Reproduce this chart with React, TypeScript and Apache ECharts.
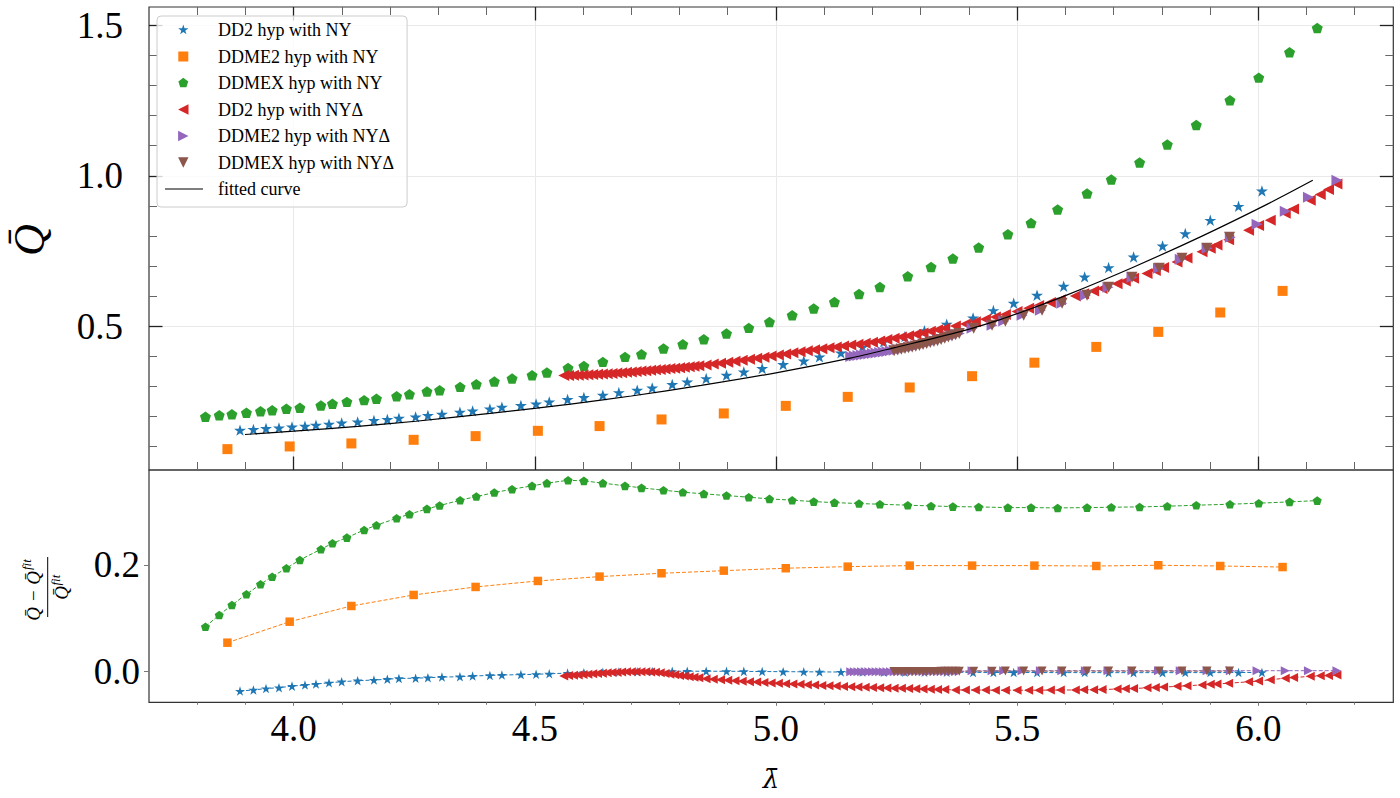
import React, { useEffect, useRef } from "react";
import * as echarts from "echarts";

const FONT = '"Liberation Serif", "Times New Roman", serif';
const MATH_FONT = '"DejaVu Serif", "Liberation Serif", serif';

// ---------- axis ranges & ticks ----------
const X_MIN = 3.7;
const X_MAX = 6.28;
const YT_MIN = 0.022;
const YT_MAX = 1.561;
const YB_MIN = -0.059;
const YB_MAX = 0.379;
const xMajorTicks = [4.0, 4.5, 5.0, 5.5, 6.0];
const xMinorTicks = [3.8, 3.9, 4.1, 4.2, 4.3, 4.4, 4.6, 4.7, 4.8, 4.9, 5.1, 5.2, 5.3, 5.4, 5.6, 5.7, 5.8, 5.9, 6.1, 6.2];
const yTopMajorTicks = [0.5, 1.0, 1.5];
const yTopMinorTicks = [0.1, 0.2, 0.3, 0.4, 0.6, 0.7, 0.8, 0.9, 1.1, 1.2, 1.3, 1.4];
const yBotTicks = [0.0, 0.2];

// ---------- DD2 hyp with NY ----------
const lamDD2NY = [3.8887, 3.9165, 3.9426, 3.9695, 3.9965, 4.0234, 4.0462, 4.0732, 4.0995, 4.1326, 4.1664, 4.1942, 4.2182, 4.2528, 4.2783, 4.3074, 4.3447, 4.3710, 4.4068, 4.4317, 4.4711, 4.5026, 4.5299, 4.5679, 4.6017, 4.6410, 4.6742, 4.7123, 4.7434, 4.7849, 4.8160, 4.8553, 4.8974, 4.9333, 4.9714, 5.0149, 5.0576, 5.0902, 5.1347, 5.1793, 5.2234, 5.2674, 5.3078, 5.3540, 5.4087, 5.4508, 5.4929, 5.5413, 5.5965, 5.6400, 5.6897, 5.7415, 5.8016, 5.8487, 5.9005, 5.9591, 6.0076];
const qDD2NY = [0.1545, 0.1568, 0.1601, 0.1621, 0.1654, 0.1678, 0.1711, 0.1744, 0.1787, 0.1821, 0.1867, 0.1900, 0.1944, 0.1987, 0.2033, 0.2076, 0.2143, 0.2186, 0.2253, 0.2309, 0.2365, 0.2419, 0.2485, 0.2565, 0.2631, 0.2708, 0.2797, 0.2874, 0.2950, 0.3063, 0.3150, 0.3262, 0.3372, 0.3482, 0.3595, 0.3728, 0.3847, 0.3980, 0.4113, 0.4302, 0.4485, 0.4658, 0.4850, 0.5066, 0.5276, 0.5522, 0.5764, 0.6030, 0.6329, 0.6638, 0.6950, 0.7302, 0.7668, 0.8080, 0.8522, 0.8987, 0.9495];
const rDD2NY = [-0.0377, -0.0358, -0.0330, -0.0315, -0.0285, -0.0264, -0.0245, -0.0222, -0.0202, -0.0183, -0.0170, -0.0155, -0.0140, -0.0136, -0.0126, -0.0115, -0.0107, -0.0095, -0.0083, -0.0076, -0.0068, -0.0062, -0.0052, -0.0040, -0.0032, -0.0025, -0.0018, -0.0012, -0.0008, -0.0005, -0.0004, -0.0004, -0.0005, -0.0007, -0.0010, -0.0012, -0.0015, -0.0017, -0.0019, -0.0020, -0.0022, -0.0023, -0.0024, -0.0025, -0.0026, -0.0027, -0.0028, -0.0029, -0.0030, -0.0030, -0.0031, -0.0031, -0.0031, -0.0030, -0.0030, -0.0029, -0.0028];

// ---------- DDME2 hyp with NY ----------
const lamDDME2NY = [3.8626, 3.9917, 4.1196, 4.2487, 4.3772, 4.5063, 4.6342, 4.7627, 4.8918, 5.0203, 5.1488, 5.2773, 5.4066, 5.5358, 5.6642, 5.7927, 5.9212, 6.0504];
const qDDME2NY = [0.0914, 0.1003, 0.1103, 0.1223, 0.1346, 0.1522, 0.1680, 0.1900, 0.2100, 0.2352, 0.2651, 0.2963, 0.3339, 0.3787, 0.4312, 0.4811, 0.5455, 0.6173];
const rDDME2NY = [0.0534, 0.0930, 0.1226, 0.1434, 0.1585, 0.1698, 0.1780, 0.1843, 0.1892, 0.1938, 0.1968, 0.1987, 0.1987, 0.1987, 0.1980, 0.1994, 0.1980, 0.1960];

// ---------- DDMEX hyp with NY ----------
const lamDDMEXNY = [3.8170, 3.8456, 3.8719, 3.9020, 3.9312, 3.9554, 3.9849, 4.0128, 4.0564, 4.0804, 4.1103, 4.1461, 4.1716, 4.2135, 4.2400, 4.2763, 4.3026, 4.3451, 4.3787, 4.4160, 4.4528, 4.4943, 4.5250, 4.5689, 4.6017, 4.6410, 4.6870, 4.7212, 4.7668, 4.8068, 4.8504, 4.8974, 4.9436, 4.9865, 5.0336, 5.0783, 5.1212, 5.1722, 5.2155, 5.2732, 5.3216, 5.3668, 5.4203, 5.4808, 5.5289, 5.5840, 5.6450, 5.6953, 5.7540, 5.8114, 5.8715, 5.9413, 6.0010, 6.0649, 6.1223];
const qDDMEXNY = [0.1987, 0.2043, 0.2076, 0.2120, 0.2176, 0.2209, 0.2253, 0.2286, 0.2365, 0.2419, 0.2485, 0.2542, 0.2585, 0.2674, 0.2741, 0.2831, 0.2874, 0.2983, 0.3073, 0.3163, 0.3262, 0.3372, 0.3462, 0.3615, 0.3681, 0.3814, 0.3980, 0.4070, 0.4259, 0.4402, 0.4568, 0.4757, 0.4944, 0.5143, 0.5365, 0.5588, 0.5807, 0.6073, 0.6306, 0.6661, 0.6970, 0.7249, 0.7615, 0.8056, 0.8432, 0.8877, 0.9409, 0.9874, 1.0439, 1.1037, 1.1688, 1.2508, 1.3262, 1.4103, 1.4910];
const rDDMEXNY = [0.0836, 0.1057, 0.1245, 0.1447, 0.1636, 0.1779, 0.1938, 0.2094, 0.2296, 0.2409, 0.2515, 0.2660, 0.2749, 0.2881, 0.2957, 0.3057, 0.3119, 0.3221, 0.3289, 0.3364, 0.3428, 0.3491, 0.3542, 0.3596, 0.3585, 0.3542, 0.3491, 0.3453, 0.3409, 0.3372, 0.3340, 0.3308, 0.3277, 0.3245, 0.3221, 0.3194, 0.3175, 0.3157, 0.3145, 0.3126, 0.3113, 0.3100, 0.3094, 0.3081, 0.3081, 0.3075, 0.3081, 0.3088, 0.3094, 0.3107, 0.3126, 0.3145, 0.3164, 0.3189, 0.3213];

// ---------- DD2 hyp with NYΔ ----------
const lamDD2ND = [
  4.56, 4.57, 4.58, 4.59, 4.60, 4.61, 4.62, 4.63, 4.64, 4.65, 4.66, 4.67, 4.68, 4.69, 4.70, 4.71, 4.72, 4.73, 4.74, 4.75, 4.76, 4.77, 4.78, 4.79, 4.80, 4.81, 4.82, 4.83, 4.84,
  4.855, 4.87, 4.885, 4.9, 4.915, 4.93, 4.945, 4.96, 4.975, 4.99, 5.005, 5.02, 5.035, 5.05, 5.065, 5.08, 5.095, 5.11, 5.125, 5.14, 5.155, 5.17, 5.185, 5.2, 5.215, 5.23, 5.245, 5.26, 5.275, 5.29, 5.305, 5.32, 5.335, 5.35,
  5.3720, 5.3927, 5.4135, 5.4342, 5.4549, 5.4756, 5.4999, 5.5239, 5.5447, 5.5689, 5.5896, 5.6207, 5.6379, 5.6587, 5.6761, 5.7072, 5.7244, 5.7415, 5.7693, 5.7865, 5.8037, 5.8315, 5.8522, 5.8833, 5.9005, 5.9144, 5.9385, 5.9799, 6.0006, 6.0249, 6.0560, 6.0732, 6.1078, 6.1285, 6.1457, 6.1631,
];
const qDD2ND = [
  0.3360, 0.3364, 0.3368, 0.3373, 0.3380, 0.3387, 0.3395, 0.3403, 0.3411, 0.3420, 0.3431, 0.3442, 0.3454, 0.3467, 0.3480, 0.3493, 0.3507, 0.3521, 0.3535, 0.3550, 0.3564, 0.3578, 0.3592, 0.3606, 0.3620, 0.3636, 0.3652, 0.3668, 0.3684,
  0.371, 0.374, 0.377, 0.380, 0.3833, 0.3866, 0.3899, 0.3934, 0.397, 0.4006, 0.4042, 0.4078, 0.4114, 0.415, 0.4183, 0.4216, 0.4249, 0.428, 0.431, 0.434, 0.4371, 0.4404, 0.4437, 0.447, 0.4512, 0.4554, 0.4596, 0.464, 0.4685, 0.473, 0.4777, 0.4828, 0.4879, 0.493,
  0.5005, 0.5075, 0.5151, 0.5230, 0.5309, 0.5392, 0.5490, 0.5595, 0.5687, 0.5790, 0.5876, 0.6007, 0.6079, 0.6172, 0.6255, 0.6409, 0.6502, 0.6594, 0.6752, 0.6852, 0.6954, 0.7132, 0.7265, 0.7475, 0.7594, 0.7697, 0.7875, 0.8188, 0.8345, 0.8524, 0.8758, 0.8896, 0.9185, 0.9374, 0.9547, 0.9730,
];
const rDD2ND = [
  -0.0094, -0.0087, -0.0080, -0.0073, -0.0066, -0.0059, -0.0053, -0.0047, -0.0041, -0.0035, -0.0029, -0.0023, -0.0018, -0.0015, -0.0013, -0.0012, -0.0013, -0.0016, -0.0020, -0.0025, -0.0035, -0.0047, -0.0060, -0.0072, -0.0084, -0.0095, -0.0106, -0.0117, -0.0128,
  -0.0146, -0.0156, -0.0166, -0.0175, -0.0184, -0.0193, -0.0201, -0.0209, -0.0217, -0.0225, -0.0231, -0.0238, -0.0244, -0.0251, -0.0258, -0.0265, -0.0272, -0.0279, -0.0285, -0.0290, -0.0296, -0.0301, -0.0306, -0.0311, -0.0315, -0.0319, -0.0323, -0.0327, -0.0331, -0.0335, -0.0339, -0.0343, -0.0347, -0.0350,
  -0.0356, -0.0358, -0.0359, -0.0360, -0.0361, -0.0362, -0.0362, -0.0362, -0.0361, -0.0360, -0.0359, -0.0357, -0.0355, -0.0352, -0.0349, -0.0341, -0.0336, -0.0330, -0.0318, -0.0311, -0.0303, -0.0289, -0.0278, -0.0262, -0.0252, -0.0244, -0.0230, -0.0204, -0.0190, -0.0165, -0.0135, -0.0122, -0.0101, -0.0091, -0.0083, -0.0075,
];

// ---------- DDME2 hyp with NYΔ ----------
const lamDDME2ND = [
  5.155, 5.1625, 5.17, 5.1775, 5.185, 5.1925, 5.2, 5.2075, 5.215, 5.2225, 5.23, 5.2375, 5.245, 5.2525, 5.26, 5.2675, 5.275, 5.2825, 5.29, 5.2975, 5.305, 5.3125, 5.32, 5.3275, 5.335, 5.3425, 5.35, 5.3575, 5.365, 5.3725, 5.38,
  5.4066, 5.4481, 5.4721, 5.5103, 5.5482, 5.5927, 5.6415, 5.6885, 5.7382, 5.7932, 5.8383, 5.8939, 5.9420, 5.9975, 6.0560, 6.1040, 6.1631,
];
const qDDME2ND = [
  0.3990, 0.4007, 0.4023, 0.4040, 0.4057, 0.4073, 0.4090, 0.4108, 0.4127, 0.4145, 0.4163, 0.4182, 0.4200, 0.4225, 0.4250, 0.4275, 0.4300, 0.4325, 0.4350, 0.4382, 0.4413, 0.4445, 0.4477, 0.4508, 0.4540, 0.4577, 0.4613, 0.4650, 0.4687, 0.4723, 0.4760,
  0.4930, 0.5033, 0.5170, 0.5365, 0.5532, 0.5764, 0.6030, 0.6296, 0.6628, 0.6927, 0.7226, 0.7591, 0.7957, 0.8389, 0.8821, 0.9286, 0.9850,
];
const rDDME2ND = [
  -0.0014, -0.0014, -0.0014, -0.0013, -0.0013, -0.0013, -0.0013, -0.0013, -0.0012, -0.0012, -0.0012, -0.0012, -0.0012, -0.0012, -0.0011, -0.0011, -0.0011, -0.0011, -0.0011, -0.0011, -0.0010, -0.0010, -0.0010, -0.0010, -0.0010, -0.0009, -0.0009, -0.0009, -0.0008, -0.0008, -0.0008,
  0.0004, 0.0005, 0.0005, 0.0005, 0.0006, 0.0006, 0.0006, 0.0006, 0.0006, 0.0006, 0.0006, 0.0006, 0.0006, 0.0006, 0.0006, 0.0006, 0.0006,
];

// ---------- DDMEX hyp with NYΔ ----------
const lamDDMEXND = [
  5.245, 5.2525, 5.26, 5.2675, 5.275, 5.2825, 5.29, 5.2975, 5.305, 5.3125, 5.32, 5.3275, 5.335, 5.3425, 5.35, 5.3575, 5.365, 5.3725, 5.38,
  5.4100, 5.4481, 5.4756, 5.5136, 5.5517, 5.5932, 5.6450, 5.6897, 5.7382, 5.7948, 5.8419, 5.8937, 5.9405,
];
const qDDMEXND = [
  0.4180, 0.4205, 0.4230, 0.4255, 0.4280, 0.4305, 0.4330, 0.4362, 0.4393, 0.4425, 0.4457, 0.4488, 0.4520, 0.4560, 0.4599, 0.4639, 0.4678, 0.4718, 0.4757,
  0.4934, 0.5033, 0.5166, 0.5365, 0.5532, 0.5764, 0.6030, 0.6296, 0.6628, 0.6927, 0.7259, 0.7591, 0.7957,
];
const rDDMEXND = [
  -0.0009, -0.0009, -0.0009, -0.0008, -0.0008, -0.0008, -0.0008, -0.0008, -0.0008, -0.0007, -0.0007, -0.0007, -0.0007, -0.0006, -0.0006, -0.0006, -0.0005, -0.0005, -0.0005,
  -0.0003, -0.0003, -0.0002, -0.0002, -0.0002, -0.0002, -0.0002, -0.0002, -0.0002, -0.0002, -0.0002, -0.0002, -0.0002,
];

// ---------- fitted curve ----------
const lamFit = [3.899, 4.0, 4.133, 4.253, 4.407, 4.574, 4.70, 4.845, 5.0, 5.154, 5.244, 5.382, 5.465, 5.527, 5.604, 5.742, 5.88, 6.018, 6.113];
const qFit = [0.140, 0.151, 0.167, 0.184, 0.210, 0.241, 0.268, 0.303, 0.345, 0.394, 0.428, 0.482, 0.522, 0.557, 0.604, 0.697, 0.797, 0.905, 0.985];

// ---------- names & colours ----------
const NAMES = [
  "DD2 hyp with NY",
  "DDME2 hyp with NY",
  "DDMEX hyp with NY",
  "DD2 hyp with NYΔ",
  "DDME2 hyp with NYΔ",
  "DDMEX hyp with NYΔ",
];
const FIT_NAME = "fitted curve";
const COLORS = ["#1f77b4", "#ff7f0e", "#2ca02c", "#d62728", "#9467bd", "#8c564b"];

// ---------- marker shapes (unit polygons) ----------
const STAR_PTS = [[0, -1], [0.2245, -0.309], [0.9511, -0.309], [0.3633, 0.118], [0.5878, 0.809], [0, 0.382], [-0.5878, 0.809], [-0.3633, 0.118], [-0.9511, -0.309], [-0.2245, -0.309]];
const PENT_PTS = [[0, -1], [0.9511, -0.309], [0.5878, 0.809], [-0.5878, 0.809], [-0.9511, -0.309]];
const SQ_PTS = [[-1, -1], [1, -1], [1, 1], [-1, 1]];
const TL_PTS = [[-1, 0], [1, -1], [1, 1]];
const TR_PTS = [[1, 0], [-1, -1], [-1, 1]];
const TD_PTS = [[0, 1], [-1, -1], [1, -1]];

function polyStr(pts: number[][], s = 1, cx = 0, cy = 0) {
  return pts.map((p, i) => (i ? "L" : "M") + (cx + p[0] * s).toFixed(3) + "," + (cy + p[1] * s).toFixed(3)).join("") + "Z";
}
const sym = (pts: number[][]) => "path://" + polyStr(pts);

const LEG_W = 48;
const LEG_H = 14;
const LEG_CX = 18.3;
function legendIcon(pts: number[][], s: number) {
  return `path://M0,0L0.01,0M${LEG_W},${LEG_H}L${LEG_W - 0.01},${LEG_H}` + polyStr(pts, s, LEG_CX, LEG_H / 2);
}
const LEG_LINE = `path://M0,0L0.01,0M${LEG_W},${LEG_H}L${LEG_W - 0.01},${LEG_H}M0,6.4L38,6.4L38,7.6L0,7.6Z`;

const SHAPES = [STAR_PTS, SQ_PTS, PENT_PTS, TL_PTS, TR_PTS, TD_PTS];
const TOP_SYMBOLS = [sym(STAR_PTS), "rect", sym(PENT_PTS), sym(TL_PTS), sym(TR_PTS), sym(TD_PTS)];
const TOP_SIZES = [12, 10, 11, 11, 11, 11];
const BOT_SIZES = [10, 8.5, 9, 9, 9, 9];
const LEG_SCALES = [5.4, 5, 5.2, 5.2, 5.2, 5.2];

const LAMS = [lamDD2NY, lamDDME2NY, lamDDMEXNY, lamDD2ND, lamDDME2ND, lamDDMEXND];
const QS = [qDD2NY, qDDME2NY, qDDMEXNY, qDD2ND, qDDME2ND, qDDMEXND];
const RS = [rDD2NY, rDDME2NY, rDDMEXNY, rDD2ND, rDDME2ND, rDDMEXND];

const zip = (xs: number[], ys: number[]) => xs.map((x, i) => [x, ys[i]]);

// ---------- axes helpers ----------
function xAxisDef(grid: number, pos: string, values: number[], len: number, inside: boolean, color: string, width: number, extra: any = {}) {
  return {
    type: "value",
    gridIndex: grid,
    position: pos,
    min: X_MIN,
    max: X_MAX,
    axisLine: { show: false, onZero: false },
    axisTick: { show: true, inside, length: len, customValues: values, lineStyle: { color, width } },
    axisLabel: { show: false },
    splitLine: { show: false },
    ...extra,
  };
}
function yAxisDef(grid: number, pos: string, min: number, max: number, values: number[], len: number, inside: boolean, color: string, width: number, extra: any = {}) {
  return {
    type: "value",
    gridIndex: grid,
    position: pos,
    min,
    max,
    axisLine: { show: false, onZero: false },
    axisTick: { show: true, inside, length: len, customValues: values, lineStyle: { color, width } },
    axisLabel: { show: false },
    splitLine: { show: false },
    ...extra,
  };
}

const MINOR_C = "#666";
const MAJOR_C = "#222";
const GRID_C = "#e9e9e9";
const labelStyle = { fontFamily: FONT, fontSize: 37, color: "#000" };

function buildOption() {
  const xAxes = [
    xAxisDef(0, "bottom", xMinorTicks, 8, true, MINOR_C, 1),
    xAxisDef(0, "bottom", xMajorTicks, 13.5, true, MAJOR_C, 1.3, {
      splitLine: { show: true, lineStyle: { color: GRID_C, width: 1 } },
    }),
    xAxisDef(0, "top", xMinorTicks, 8, true, MINOR_C, 1),
    xAxisDef(0, "top", xMajorTicks, 13.5, true, MAJOR_C, 1.3),
    xAxisDef(1, "bottom", xMinorTicks, 2.5, false, "#777", 1),
    xAxisDef(1, "bottom", xMajorTicks, 3.5, false, "#777", 1, {
      axisLabel: { show: true, customValues: xMajorTicks, margin: 8, formatter: (v: number) => v.toFixed(1), ...labelStyle },
    }),
  ];
  const yAxes = [
    yAxisDef(0, "left", YT_MIN, YT_MAX, yTopMinorTicks, 8, true, MINOR_C, 1),
    yAxisDef(0, "left", YT_MIN, YT_MAX, yTopMajorTicks, 13.5, true, MAJOR_C, 1.3, {
      axisLabel: { show: true, customValues: yTopMajorTicks, margin: 26, formatter: (v: number) => v.toFixed(1), ...labelStyle },
      splitLine: { show: true, lineStyle: { color: GRID_C, width: 1 } },
    }),
    yAxisDef(0, "right", YT_MIN, YT_MAX, yTopMinorTicks, 8, true, MINOR_C, 1),
    yAxisDef(0, "right", YT_MIN, YT_MAX, yTopMajorTicks, 13.5, true, MAJOR_C, 1.3),
    yAxisDef(1, "left", YB_MIN, YB_MAX, yBotTicks, 5, false, "#777", 1, {
      axisLabel: { show: true, customValues: yBotTicks, margin: 9, formatter: (v: number) => v.toFixed(1), ...labelStyle },
    }),
  ];

  const series: any[] = [];
  for (let i = 0; i < 6; i++) {
    series.push({
      name: NAMES[i],
      type: "scatter",
      xAxisIndex: 0,
      yAxisIndex: 0,
      symbol: TOP_SYMBOLS[i],
      symbolSize: TOP_SIZES[i],
      symbolKeepAspect: true,
      itemStyle: { color: COLORS[i], opacity: 1, borderWidth: 0 },
      data: zip(LAMS[i], QS[i]),
      z: 2,
      silent: true,
    });
  }
  series.push({
    name: FIT_NAME,
    type: "line",
    xAxisIndex: 0,
    yAxisIndex: 0,
    symbol: "none",
    smooth: 0.3,
    color: "#000",
    itemStyle: { color: "#000" },
    lineStyle: { color: "#000", width: 1.2 },
    data: zip(lamFit, qFit),
    z: 3,
    silent: true,
  });
  for (let i = 0; i < 6; i++) {
    series.push({
      name: NAMES[i] + " (residual)",
      type: "line",
      xAxisIndex: 4,
      yAxisIndex: 4,
      symbol: TOP_SYMBOLS[i],
      symbolSize: BOT_SIZES[i],
      symbolKeepAspect: true,
      showSymbol: true,
      showAllSymbol: true,
      itemStyle: { color: COLORS[i], borderWidth: 0, opacity: 1 },
      lineStyle: { color: COLORS[i], width: 1, type: [4, 2] },
      data: zip(LAMS[i], RS[i]),
      z: 2,
      silent: true,
    });
  }

  const legendData: any[] = NAMES.map((n, i) => ({ name: n, icon: legendIcon(SHAPES[i], LEG_SCALES[i]) }));
  legendData.push({ name: FIT_NAME, icon: LEG_LINE });

  return {
    animation: false,
    backgroundColor: "#ffffff",
    textStyle: { fontFamily: FONT },
    grid: [
      { left: 149, top: 7, width: 1244.3, height: 463, show: true, borderColor: "#333", borderWidth: 1.2, backgroundColor: "transparent" },
      { left: 149, top: 470, width: 1244.3, height: 232.3, show: true, borderColor: "#333", borderWidth: 1.2, backgroundColor: "transparent" },
    ],
    xAxis: xAxes,
    yAxis: yAxes,
    legend: {
      data: legendData,
      orient: "vertical",
      left: 157,
      top: 16,
      itemWidth: LEG_W,
      itemHeight: LEG_H,
      itemGap: 8.5,
      padding: [5, 13, 9, 8],
      backgroundColor: "rgba(255,255,255,0.8)",
      borderColor: "#cccccc",
      borderWidth: 1,
      borderRadius: 4,
      selectedMode: false,
      itemStyle: { borderWidth: 0 },
      textStyle: { fontFamily: FONT, fontSize: 18, lineHeight: 18, color: "#000" },
      z: 10,
    },
    graphic: [
      {
        type: "text",
        x: 29,
        y: 240,
        rotation: Math.PI / 2,
        style: { text: "Q\u0304", fontFamily: FONT, fontStyle: "italic", fontSize: 44, fill: "#000", align: "center", verticalAlign: "middle" },
      },
      {
        type: "group",
        x: 47.7,
        y: 587,
        rotation: Math.PI / 2,
        children: [
          { type: "line", shape: { x1: -30, y1: 0, x2: 30, y2: 0 }, style: { stroke: "#000", lineWidth: 1 } },
          { type: "text", x: 16, y: -14.5, style: { text: "Q\u0304 \u2212 Q\u0304", fontFamily: FONT, fontStyle: "italic", fontSize: 19, fill: "#000", align: "right", verticalAlign: "middle" } },
          { type: "text", x: 17, y: -21, style: { text: "fit", fontFamily: FONT, fontStyle: "italic", fontSize: 13, fill: "#000", align: "left", verticalAlign: "middle" } },
          { type: "text", x: 1, y: 13.5, style: { text: "Q\u0304", fontFamily: FONT, fontStyle: "italic", fontSize: 19, fill: "#000", align: "right", verticalAlign: "middle" } },
          { type: "text", x: 1.5, y: 8, style: { text: "fit", fontFamily: FONT, fontStyle: "italic", fontSize: 13, fill: "#000", align: "left", verticalAlign: "middle" } },
        ],
      },
      {
        type: "text",
        x: 771,
        y: 779,
        style: { text: "\u03BB\u0304", fontFamily: MATH_FONT, fontStyle: "italic", fontSize: 26, fill: "#000", align: "center", verticalAlign: "middle" },
      },
    ],
    series,
  };
}

export default function App() {
  const ref = useRef<HTMLDivElement>(null);
  useEffect(() => {
    if (!ref.current) return;
    const chart = echarts.init(ref.current, undefined, { renderer: "svg" });
    chart.setOption(buildOption() as any);
    return () => {
      chart.dispose();
    };
  }, []);
  return (
    <div
      ref={ref}
      style={{ position: "absolute", left: 0, top: 0, width: 1400, height: 798, background: "#fff" }}
    />
  );
}
